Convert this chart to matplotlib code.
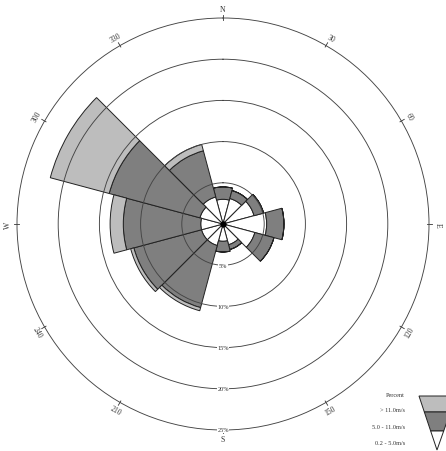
import numpy as np
import matplotlib
matplotlib.use('Agg')
import matplotlib.pyplot as plt
from matplotlib.patches import Polygon

# wind rose data, percent of time per 30 degree sector
directions = [0, 30, 60, 90, 120, 150, 180, 210, 240, 270, 300, 330]
low = [3.0, 3.2, 3.9, 5.3, 4.0, 2.6, 2.1, 2.7, 2.7, 2.7, 2.9, 3.4]     # 0.2 - 5.0 m/s
mid = [1.5, 1.0, 1.2, 2.1, 2.4, 0.6, 1.3, 7.8, 8.5, 9.4, 11.4, 5.8]    # 5.0 - 11.0 m/s
high = [0.0, 0.0, 0.0, 0.0, 0.0, 0.0, 0.0, 0.4, 0.4, 1.6, 7.4, 0.8]    # > 11.0 m/s
rings = [5, 10, 15, 20, 25]
compass = ['N', '30', '60', 'E', '120', '150', 'S', '210', '240', 'W', '300', '330']
legend_labels = ['> 11.0m/s', '5.0 - 11.0m/s', '0.2 - 5.0m/s']

W, H = 446, 452
dpi = 100.
plt.rcParams.update({'figure.dpi': dpi,
                     'font.family': ['Liberation Serif', 'DejaVu Serif']})

fig = plt.figure(figsize=(W/dpi, H/dpi), dpi=dpi)
rmax = 25.2
cx, cy = 223, 225
R = 206 * rmax / 25
ax = fig.add_axes([(cx - R)/W, (H - cy - R)/H, 2*R/W, 2*R/H], projection='polar')
ax.set_theta_zero_location('N')
ax.set_theta_direction(-1)
ax.set_ylim(0, rmax)

light, dark = '#bdbdbd', '#7f7f7f'
theta = np.radians(directions)
width = np.radians(30)
low = np.array(low)
mid = np.array(mid)
high = np.array(high)
kw = dict(width=width, edgecolor='#222222', linewidth=0.7, align='center')
ax.bar(theta, low, bottom=0, color='white', **kw)
ax.bar(theta, mid, bottom=low, color=dark, **kw)
ax.bar(theta, high, bottom=low + mid, color=light, **kw)
ax.plot([0], [0], 'o', color='black', ms=3.5, zorder=5)

# rings drawn on top of the bars
ax.set_axisbelow(False)
ax.set_yticks(rings)
ax.set_yticklabels([])
ax.set_xticks([])
ax.yaxis.grid(True, color='#444444', linewidth=0.65, linestyle='-')
ax.spines['polar'].set_visible(False)

for r in rings:
    ax.text(np.pi, r, '%d%%' % r, fontsize=4.5, ha='center', va='center',
            color='#333333',
            bbox=dict(facecolor='white', edgecolor='none', pad=0.3), zorder=6)

for d, lab in zip(directions, compass):
    t = np.radians(d)
    ax.plot([t, t], [24.8, 25.4], color='#333333', lw=0.6, clip_on=False)
    rot = -d if (d <= 90 or d >= 270) else 180 - d
    ax.text(t, 26.1, lab, fontsize=5.5, ha='center', va='center',
            rotation=rot, rotation_mode='anchor', color='#333333',
            clip_on=False)

# legend
def px(x, y):
    return (x / W, 1 - y / H)

fig.text(*px(405, 396), 'Percent', fontsize=4.5, ha='right', va='center', color='#333333')
for i, lab in enumerate(legend_labels):
    fig.text(*px(405, 411 + 16.5*i), lab, fontsize=4.5, ha='right', va='center',
             color='#333333')

top, tip_x, tip_y = 397, 437, 451
xl, xr = 419, 456
def edge(y, x0):
    f = (y - top) / (tip_y - top)
    return x0 + (tip_x - x0) * f
bands = [(top, 413, light), (413, 432, dark), (432, tip_y, 'white')]
for y0, y1, col in bands:
    pts = [px(edge(y0, xl), y0), px(edge(y0, xr), y0),
           px(edge(y1, xr), y1), px(edge(y1, xl), y1)]
    fig.patches.append(Polygon(pts, closed=True, facecolor=col,
                               edgecolor='#222222', linewidth=0.7,
                               transform=fig.transFigure))

fig.savefig('out.png', dpi=dpi)
